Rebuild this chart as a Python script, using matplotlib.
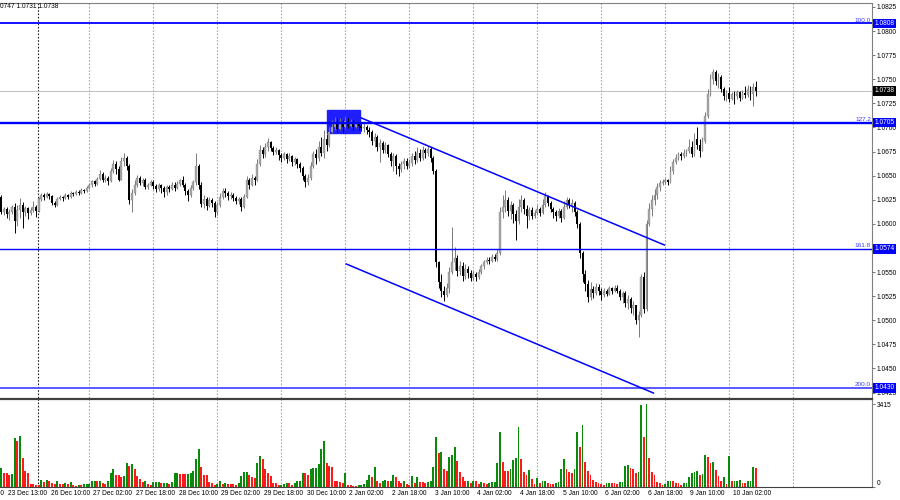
import numpy as np
import matplotlib.pyplot as plt
import matplotlib.transforms as mtransforms
from matplotlib.patches import Rectangle

plt.rcParams['font.family'] = ['Liberation Sans', 'DejaVu Sans']

# EURUSD H1 candles, prices in pips above 1.0000 (open = previous close)
first_open = 628
close_p = [
    612, 615, 610, 612, 618, 603, 614, 620, 612, 616,
    611, 614, 618, 613, 626, 630, 628, 631, 629, 622,
    620, 626, 628, 627, 630, 628, 632, 631, 633, 632,
    635, 634, 637, 640, 644, 641, 647, 652, 645, 648,
    644, 655, 662, 657, 646, 665, 668, 660, 625, 632,
    640, 648, 642, 646, 638, 640, 643, 639, 636, 640,
    637, 633, 638, 636, 640, 637, 641, 645, 640, 634,
    630, 637, 643, 660, 640, 621, 626, 619, 625, 622,
    612, 620, 628, 634, 632, 629, 630, 627, 624, 626,
    618, 628, 645, 640, 648, 645, 662, 677, 672, 680,
    685, 679, 675, 677, 671, 668, 672, 667, 670, 664,
    667, 662, 658, 650, 643, 648, 660, 672, 668, 680,
    674, 688, 682, 695, 700, 705, 698, 704, 700, 707,
    702, 705, 701, 704, 702, 699, 701, 697, 695, 686,
    690, 680, 684, 677, 682, 672, 665, 670, 660, 657,
    662, 665, 660, 663, 670, 666, 674, 668, 677, 673,
    678, 668, 655, 560, 540, 530, 526, 534, 550, 560,
    565, 551, 556, 546, 553, 549, 544, 548, 545, 550,
    556, 560, 563, 561, 566, 564, 570, 612, 618, 625,
    613, 620, 610, 603, 618, 625, 615, 608, 614, 608,
    611, 615, 611, 620, 629, 622, 615, 612, 608, 613,
    606, 618, 625, 620, 622, 612, 600, 570, 548, 538,
    524, 532, 528, 535, 530, 526, 530, 527, 533, 530,
    533, 530, 524, 528, 518, 522, 513, 516, 500, 505,
    545, 512, 600, 615, 625, 630, 638, 642, 643, 645,
    643, 655, 664, 668, 672, 670, 674, 676, 680, 672,
    688, 682, 676, 686, 712, 735, 750, 758, 748, 752,
    740, 733, 736, 730, 735, 733, 737, 731, 736, 734,
    740, 735, 742, 738,
]
high_p = [
    630, 618, 617, 615, 620, 622, 620, 627, 623, 619,
    618, 617, 624, 620, 628, 632, 632, 633, 632, 630,
    624, 628, 630, 629, 632, 631, 634, 633, 635, 635,
    637, 636, 639, 642, 646, 646, 649, 656, 654, 651,
    650, 658, 666, 665, 660, 669, 673, 670, 662, 636,
    645, 651, 650, 648, 648, 642, 645, 645, 641, 642,
    641, 639, 640, 640, 643, 643, 644, 647, 650, 642,
    636, 640, 645, 673, 662, 643, 630, 628, 628, 627,
    624, 623, 632, 637, 637, 634, 633, 632, 629, 628,
    628, 631, 650, 648, 652, 650, 667, 682, 680, 684,
    689, 686, 681, 680, 678, 673, 675, 674, 674, 671,
    669, 668, 664, 660, 652, 652, 664, 676, 678, 686,
    690, 697, 693, 700, 708, 711, 709, 710, 708, 712,
    710, 709, 708, 707, 706, 706, 705, 703, 700, 697,
    694, 692, 688, 686, 685, 683, 675, 673, 672, 663,
    665, 668, 668, 667, 673, 676, 680, 678, 681, 679,
    681, 680, 670, 657, 562, 548, 536, 539, 555, 597,
    576, 568, 562, 560, 558, 556, 552, 551, 550, 553,
    558, 563, 566, 566, 569, 569, 574, 618, 630, 635,
    628, 624, 622, 614, 626, 630, 627, 620, 618, 617,
    614, 620, 617, 626, 633, 630, 624, 617, 614, 616,
    615, 624, 628, 627, 626, 624, 614, 602, 572, 552,
    542, 540, 536, 539, 538, 533, 533, 532, 536, 535,
    537, 537, 532, 530, 530, 526, 524, 520, 516, 510,
    548, 550, 604, 622, 630, 636, 642, 645, 647, 648,
    647, 660, 667, 672, 675, 675, 678, 678, 688, 686,
    694, 700, 688, 690, 716, 740, 755, 761, 760, 756,
    754, 742, 739, 742, 737, 738, 739, 738, 739, 743,
    744, 743, 746, 748,
]
low_p = [
    610, 609, 606, 604, 610, 591, 598, 606, 596, 608,
    605, 609, 612, 607, 612, 624, 625, 627, 626, 620,
    617, 619, 625, 624, 626, 626, 627, 629, 630, 630,
    631, 632, 633, 636, 638, 639, 640, 645, 643, 643,
    640, 643, 653, 652, 644, 645, 660, 656, 621, 612,
    630, 638, 640, 639, 636, 636, 639, 636, 633, 634,
    632, 628, 630, 633, 635, 634, 636, 639, 638, 630,
    624, 628, 635, 640, 636, 618, 616, 614, 618, 618,
    607, 609, 618, 626, 628, 625, 626, 624, 621, 621,
    613, 616, 627, 636, 639, 640, 644, 660, 668, 669,
    676, 676, 671, 672, 666, 664, 666, 663, 665, 660,
    661, 658, 654, 646, 638, 640, 646, 658, 662, 665,
    670, 668, 676, 680, 694, 697, 695, 697, 694, 698,
    699, 700, 697, 699, 697, 696, 695, 693, 690, 682,
    680, 676, 664, 673, 674, 669, 660, 655, 652, 650,
    654, 657, 657, 658, 660, 662, 664, 665, 666, 668,
    670, 664, 652, 555, 533, 524, 520, 524, 528, 548,
    552, 546, 547, 541, 543, 544, 541, 542, 541, 543,
    548, 553, 558, 558, 560, 561, 562, 568, 606, 612,
    608, 605, 601, 583, 600, 612, 610, 596, 604, 605,
    606, 609, 608, 610, 618, 619, 612, 606, 603, 606,
    602, 605, 615, 616, 612, 608, 596, 565, 540, 530,
    519, 521, 523, 526, 526, 521, 524, 525, 526, 527,
    529, 528, 521, 518, 514, 512, 508, 506, 496, 483,
    503, 508, 510, 598, 608, 620, 626, 634, 640, 641,
    640, 642, 652, 662, 666, 666, 668, 670, 674, 669,
    670, 678, 669, 680, 684, 710, 733, 745, 744, 741,
    737, 728, 727, 726, 728, 724, 730, 727, 730, 731,
    732, 728, 722, 733,
]
volume = [
    790, 584, 556, 514, 542, 2000, 1910, 2120, 1180, 650,
    570, 130, 120, 100, 80, 306, 195, 306, 236, 167,
    139, 236, 125, 110, 153, 125, 208, 70, 60, 97,
    85, 125, 130, 140, 236, 250, 230, 240, 153, 140,
    236, 556, 723, 514, 486, 403, 445, 987, 848, 959,
    723, 473, 334, 208, 236, 125, 97, 208, 215, 222,
    167, 175, 182, 139, 208, 556, 560, 550, 545, 540,
    545, 560, 653, 1140, 1557, 834, 514, 500, 208, 167,
    97, 125, 236, 139, 167, 125, 115, 105, 95, 167,
    445, 598, 610, 514, 400, 380, 1000, 1279, 1140, 723,
    556, 459, 167, 160, 70, 97, 125, 180, 153, 97,
    180, 236, 250, 580, 570, 514, 750, 765, 790, 960,
    1580, 1910, 1000, 848, 820, 264, 236, 208, 180, 584,
    70, 65, 60, 55, 70, 97, 125, 306, 514, 403,
    820, 236, 167, 264, 306, 236, 264, 486, 403, 236,
    167, 236, 110, 100, 445, 167, 403, 208, 200, 153,
    208, 236, 820, 2040, 1400, 1450, 723, 653, 1237, 1330,
    1660, 1070, 611, 403, 236, 264, 167, 264, 236, 139,
    208, 153, 125, 180, 208, 215, 987, 2250, 1030, 653,
    640, 723, 1110, 1210, 2450, 1140, 611, 514, 681, 334,
    125, 375, 153, 236, 245, 180, 125, 115, 153, 208,
    737, 1170, 723, 626, 584, 723, 2250, 1660, 2540, 1030,
    653, 514, 278, 222, 153, 139, 97, 180, 185, 175,
    153, 125, 208, 215, 862, 904, 792, 723, 584, 626,
    3370, 2040, 3415, 1210, 626, 514, 208, 167, 97, 125,
    236, 245, 236, 180, 153, 97, 153, 180, 403, 570,
    626, 653, 500, 542, 1307, 1250, 1000, 1030, 709, 473,
    264, 403, 125, 1279, 236, 245, 250, 306, 180, 175,
    236, 245, 820, 790,
]

time_labels = ["22 Dec 21:00", "23 Dec 13:00", "26 Dec 10:00", "27 Dec 02:00",
               "27 Dec 18:00", "28 Dec 10:00", "29 Dec 02:00", "29 Dec 18:00",
               "30 Dec 10:00", "2 Jan 02:00", "2 Jan 18:00", "3 Jan 10:00",
               "4 Jan 02:00", "4 Jan 18:00", "5 Jan 10:00", "6 Jan 02:00",
               "6 Jan 18:00", "9 Jan 10:00", "10 Jan 02:00"]
label_bars = [-13 + 16 * k for k in range(len(time_labels))]

# fibo levels
levels = [1.0808, 1.0705, 1.0574, 1.0430]
level_names = ["100.0", "127.2", "161.8", "200.0"]
level_widths = [1.3, 1.7, 1.0, 1.3]
level_colors = ["#0000ff", "#0000ff", "#0000ff", "#4a4aff"]
last_price = 1.0738

# channel (bar index, price)
upper_line = ([135.0, 248.7], [1.07099, 1.05781])
lower_line = ([129.4, 244.6], [1.05584, 1.04246])
box_bars = (122.2, 134.5)
box_prices = (1.06943, 1.07182)

sep_bar = 13.75
grid_bars = [32.9 + 24 * k for k in range(12)]
# 1.0575 is hidden behind the 1.0574 level box
price_ticks = [1.0825 - 0.0025 * k for k in range(17) if k != 10]
vol_max_label = 3415

# ---------------------------------------------------------------
c = 1 + np.array(close_p) / 10000
o = np.concatenate([[1 + first_open / 10000], c[:-1]])
h = np.maximum(1 + np.array(high_p) / 10000, np.maximum(o, c))
l = np.minimum(1 + np.array(low_p) / 10000, np.minimum(o, c))
v = np.array(volume)
x = np.arange(len(c))
up = c >= o

fig = plt.figure(figsize=(9, 5), dpi=100)
W, H = 900, 500
ax = fig.add_axes([0, 1 - 398 / H, 872 / W, 395 / H])
axv = fig.add_axes([0, 1 - 487 / H, 872 / W, 88 / H])

xlim = (-0.5, 872 / 2.666 - 0.5)
for a in (ax, axv):
    a.set_xlim(*xlim)
    a.set_xticks([])
    for b in grid_bars:
        a.axvline(b, color="#a8a8a8", lw=0.8, ls=(0, (1.5, 1.5)), zorder=0)
    a.axvline(sep_bar, color="#202020", lw=0.8, ls=(0, (1.5, 1.5)), zorder=0)
    a.spines["left"].set_visible(False)
    a.spines["right"].set_color("#808080")

ax.set_ylim(1.04194, 1.08291)

# candles
ax.vlines(x[up], l[up], h[up], color="#7a7a7a", lw=0.7, zorder=3)
ax.vlines(x[~up], l[~up], h[~up], color="#000000", lw=0.7, zorder=3)
body = np.maximum(np.abs(c - o), 0.00008)
ax.bar(x[up], body[up], bottom=np.minimum(o, c)[up], width=0.72,
       color="#a8a8a8", edgecolor="#707070", lw=0.2, zorder=4)
ax.bar(x[~up], body[~up], bottom=np.minimum(o, c)[~up], width=0.72,
       color="#000000", zorder=4)

ax.add_patch(Rectangle((box_bars[0], box_prices[0]), box_bars[1] - box_bars[0],
                       box_prices[1] - box_prices[0], color="#1e1eff", zorder=2))

trans = mtransforms.blended_transform_factory(ax.transAxes, ax.transData)
for lv, nm, lw, col in zip(levels, level_names, level_widths, level_colors):
    ax.axhline(lv, color=col, lw=lw, zorder=5)
    ax.text(871 / 872, lv + 0.00006, nm, transform=trans,
            ha="right", va="bottom", fontsize=4.6, color="#3c3cff", zorder=6)
ax.axhline(last_price, color="#c0c0c0", lw=0.7, zorder=1)
ax.plot(*upper_line, color="#0000ff", lw=1.1, zorder=5)
ax.plot(*lower_line, color="#0000ff", lw=1.1, zorder=5)

ax.spines["top"].set_color("#808080")
ax.spines["bottom"].set_visible(False)
ax.yaxis.tick_right()
ax.set_yticks(price_ticks)
ax.set_yticklabels([f"{t:.4f}" for t in price_ticks])
ax.tick_params(axis="y", length=2, width=0.6, pad=1.5, labelsize=4.8, color="#606060")

for lv in levels:
    ax.text(1.003, lv, f"{lv:.4f}", transform=trans, ha="left", va="center", fontsize=4.8,
            color="white", zorder=7, clip_on=False,
            bbox=dict(facecolor="#0000ff", edgecolor="none", pad=0.9))
ax.text(1.003, last_price, f"{last_price:.4f}", transform=trans, ha="left", va="center",
        fontsize=4.8, color="white", zorder=7, clip_on=False,
        bbox=dict(facecolor="#000000", edgecolor="none", pad=0.9))

# volumes: green when above previous bar, red when below
vol_up = np.concatenate([[True], v[1:] > v[:-1]])
axv.bar(x[vol_up], v[vol_up], width=0.72, color="#0a8a0a", zorder=3)
axv.bar(x[~vol_up], v[~vol_up], width=0.72, color="#ff1a1a", zorder=3)
axv.set_ylim(0, vol_max_label * 83 / 82 + 41.6 * 4)
axv.spines["top"].set_color("#404040")
axv.spines["top"].set_linewidth(1.6)
axv.spines["bottom"].set_color("#404040")
axv.yaxis.tick_right()
axv.set_yticks([0, vol_max_label])
axv.set_yticklabels(["0", str(vol_max_label)])
axv.tick_params(axis="y", length=2, width=0.6, pad=1.5, labelsize=4.8, color="#606060")
axv.get_yticklabels()[0].set_va("bottom")

tv = mtransforms.blended_transform_factory(axv.transData, axv.transAxes)
for b, s in zip(label_bars, time_labels):
    axv.text(b - 0.5, -0.03, s, transform=tv, ha="left", va="top", fontsize=4.8,
             color="black", clip_on=False)

fig.text(0.0, 1 - 7 / H, "0747 1.0731 1.0738", ha="left", va="center", fontsize=4.8)

fig.savefig("out.png", dpi=100)
